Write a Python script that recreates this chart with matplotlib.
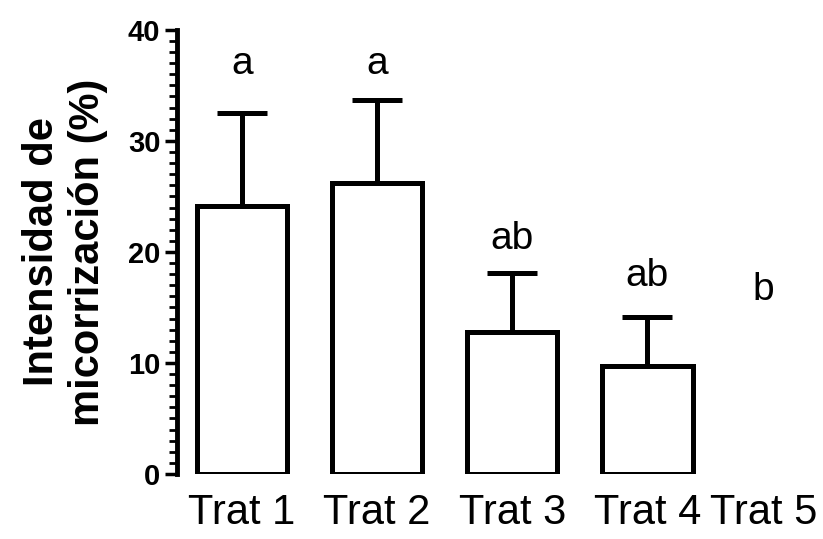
import numpy as np
import matplotlib
matplotlib.use("Agg")
import matplotlib.pyplot as plt
from matplotlib.ticker import MultipleLocator

# data
categories = ["Trat 1", "Trat 2", "Trat 3", "Trat 4", "Trat 5"]
positions = [0, 1, 2, 3, 3.86]
means = [24.1, 26.2, 12.8, 9.7, 0.0]
sd_upper = [8.4, 7.5, 5.3, 4.4, 0.0]
letters = ["a", "a", "ab", "ab", "b"]
letter_y = [36.9, 36.9, 21.2, 17.8, 16.6]

plt.rcParams["font.family"] = ["Liberation Sans", "DejaVu Sans"]

fig = plt.figure(figsize=(8.23, 5.39), dpi=100)
ax = fig.add_axes([0.215, 0.1206, 0.785, 0.824])

x = np.array(positions)
m = np.array(means)
# a zero-height bar shows nothing in the original, so give it no outline
edge_w = [3.6 if v > 0 else 0 for v in means]
ax.bar(x, m, width=0.67, color="white", edgecolor="black", linewidth=edge_w, zorder=2)

# upper error bars only, drawn behind the bars
has_err = np.array(sd_upper) > 0
ax.errorbar(x[has_err], m[has_err],
            yerr=[np.zeros(has_err.sum()), np.array(sd_upper)[has_err]],
            fmt="none", ecolor="black", elinewidth=3.6, capsize=18, capthick=3.6, zorder=1)

for xi, lab, ly in zip(x, letters, letter_y):
    ax.text(xi, ly, lab, ha="center", va="center", fontsize=28)

ax.set_xlim(-0.48, 4.3)
ax.set_ylim(0, 40)
ax.yaxis.set_major_locator(MultipleLocator(10))
ax.yaxis.set_minor_locator(MultipleLocator(1))

ax.spines["top"].set_visible(False)
ax.spines["right"].set_visible(False)
ax.spines["bottom"].set_visible(False)
ax.spines["left"].set_linewidth(3.5)

ax.tick_params(axis="y", which="major", length=9, width=2.5, labelsize=21, pad=3)
ax.tick_params(axis="y", which="minor", length=5.5, width=2)
ax.tick_params(axis="x", length=0, labelsize=30, pad=14)
for t in ax.get_yticklabels():
    t.set_fontweight("bold")

ax.set_xticks(x)
ax.set_xticklabels(categories)
ax.set_ylabel("Intensidad de\nmicorrización (%)", fontsize=30, fontweight="bold", labelpad=14)

fig.savefig("out.png", dpi=100)
